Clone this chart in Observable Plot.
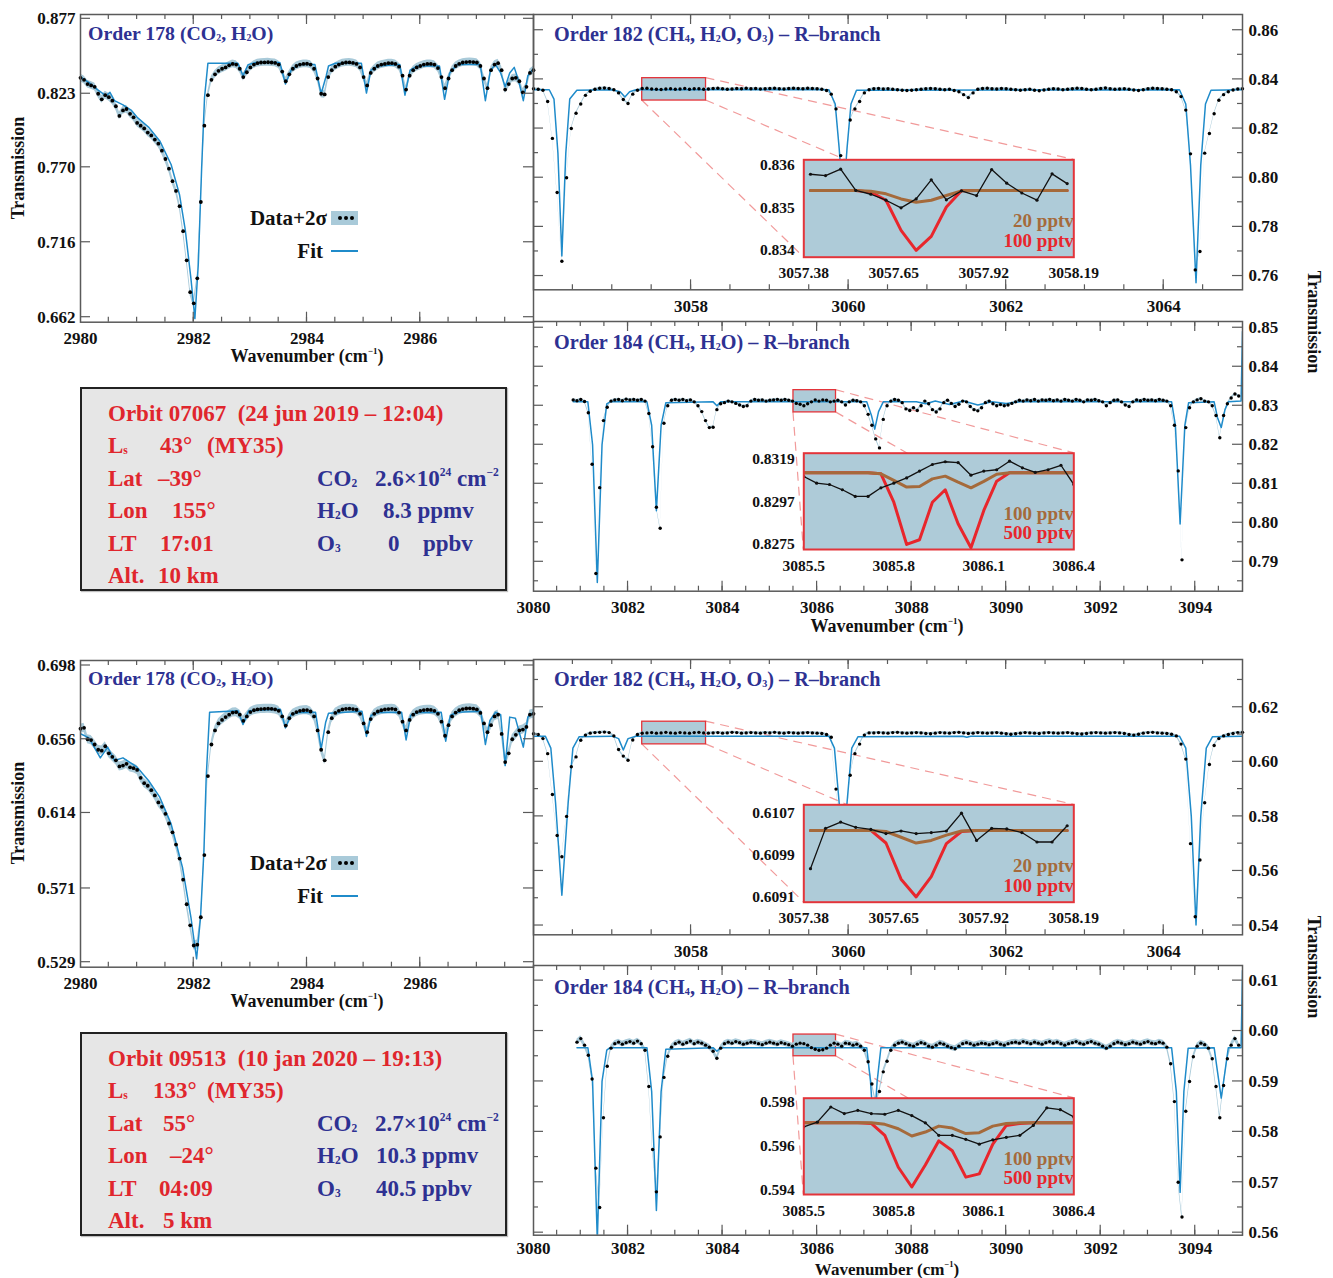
<!DOCTYPE html>
<html>
<head>
<meta charset="utf-8">
<script src="https://cdn.jsdelivr.net/npm/d3@7"></script>
<script src="https://cdn.jsdelivr.net/npm/@observablehq/plot@0.6"></script>
<style>
html,body{margin:0;padding:0;background:#fff;}
#fig{position:relative;width:1333px;height:1278px;overflow:hidden;background:#fff;}
#fig svg text{font-family:'Liberation Serif','Times New Roman',serif;font-weight:bold;}
.t{position:absolute;white-space:nowrap;line-height:1;font-family:'Liberation Serif','Times New Roman',serif;font-weight:bold;}
.t sub{font-size:0.5em;vertical-align:-0.12em;line-height:0;}
.t sup{font-size:0.5em;vertical-align:0.85em;line-height:0;}
.box{position:absolute;background:#e6e6e6;border:2px solid #222;box-sizing:border-box;box-shadow:1px 1px 1px rgba(0,0,0,0.25);}
.sw{position:absolute;}
</style>
</head>
<body>
<div id="fig"></div>
<script>
// ---------------- DATA ----------------
// Order 178 (top orbit 07067): data on a regular wavenumber grid
const top178X0 = 2980.0, top178Step = 0.0625, top178Sigma = 0.0014;
const top178Y = [.8345,.8330,.8300,.8290,.8280,.8230,.8190,.8220,.8205,.8180,
 .8140,.8070,.8110,.8120,.8085,.8060,.8020,.8000,.7980,.7950,
 .7930,.7900,.7870,.7820,.7760,.7690,.7600,.7530,.7420,.7240,
 .7030,.6800,.6720,.6900,.7450,.8000,.8220,.8330,.8370,.8395,
 .8410,.8420,.8435,.8445,.8440,.8410,.8350,.8385,.8420,.8440,
 .8450,.8455,.8456,.8457,.8455,.8452,.8440,.8390,.8320,.8370,
 .8410,.8430,.8440,.8445,.8446,.8440,.8410,.8340,.8230,.8225,
 .8350,.8400,.8425,.8440,.8450,.8455,.8456,.8452,.8445,.8420,
 .8350,.8290,.8380,.8410,.8430,.8440,.8445,.8450,.8450,.8445,
 .8425,.8360,.8260,.8360,.8400,.8420,.8430,.8440,.8445,.8445,
 .8440,.8415,.8350,.8270,.8340,.8400,.8430,.8445,.8455,.8458,
 .8460,.8458,.8455,.8430,.8340,.8270,.8400,.8440,.8450,.8400,
 .8260,.8300,.8340,.8345,.8320,.8240,.8280,.8380,.8400];
const top178Fit = [[2980.0,.835],[2980.15,.831],[2980.3,.826],[2980.45,.8215],[2980.52,.824],[2980.6,.818],[2980.75,.815],[2980.9,.811],[2981.0,.806],[2981.2,.799],[2981.4,.789],[2981.6,.772],[2981.75,.750],[2981.85,.725],[2981.95,.690],[2982.02,.661],[2982.08,.700],[2982.14,.770],[2982.19,.820],[2982.25,.845],[2982.78,.845],[2982.87,.836],[2982.96,.844],[2983.1,.8455],[2983.52,.8455],[2983.62,.830],[2983.72,.840],[2983.85,.844],[2984.14,.844],[2984.25,.823],[2984.34,.836],[2984.38,.843],[2984.5,.845],[2984.96,.845],[2985.05,.8235],[2985.13,.840],[2985.25,.843],[2985.64,.844],[2985.73,.822],[2985.82,.840],[2985.95,.843],[2986.34,.843],[2986.43,.819],[2986.52,.838],[2986.65,.844],[2987.06,.844],[2987.15,.818],[2987.24,.840],[2987.33,.844],[2987.42,.838],[2987.5,.828],[2987.58,.838],[2987.66,.842],[2987.74,.832],[2987.82,.818],[2987.9,.836],[2988.0,.841]];
const top178YTicks = [0.662, 0.716, 0.770, 0.823, 0.877];

// Order 182 (top)
const top182X0 = 3056.0, top182Step = 0.06, top182Sigma = 0.0002;
const top182Y = [.8362,.8360,.8356,.8310,.8160,.7940,.7660,.8000,.8200,.8262,
 .8300,.8335,.8352,.8360,.8364,.8365,.8363,.8358,.8345,.8318,
 .8302,.8340,.8356,.8363,.8364,.8361,.8360,.8359,.8361,.8362,
 .8360,.8361,.8363,.8360,.8362,.8362,.8360,.8361,.8363,.8364,
 .8362,.8360,.8361,.8363,.8362,.8364,.8362,.8363,.8361,.8362,
 .8363,.8364,.8362,.8361,.8363,.8364,.8363,.8362,.8364,.8363,
 .8362,.8360,.8355,.8340,.8280,.8090,.7990,.8235,.8280,.8310,
 .8345,.8358,.8362,.8363,.8361,.8362,.8360,.8358,.8356,.8355,
 .8356,.8358,.8360,.8362,.8363,.8362,.8360,.8358,.8360,.8355,
 .8350,.8338,.8326,.8345,.8360,.8363,.8364,.8362,.8361,.8363,
 .8362,.8360,.8358,.8356,.8358,.8360,.8356,.8354,.8357,.8360,
 .8362,.8361,.8358,.8360,.8362,.8364,.8363,.8360,.8358,.8360,
 .8363,.8365,.8362,.8360,.8361,.8362,.8360,.8357,.8355,.8358,
 .8362,.8364,.8363,.8362,.8360,.8358,.8350,.8330,.8275,.8097,
 .7625,.7700,.8100,.8180,.8260,.8315,.8338,.8350,.8357,.8361,
 .8362];
const top182Fit = [[3056.0,.8358],[3056.2,.8358],[3056.26,.832],[3056.31,.810],[3056.36,.7682],[3056.41,.810],[3056.46,.832],[3056.55,.8356],[3057.0,.8358],[3057.1,.835],[3057.16,.8328],[3057.22,.835],[3057.3,.8358],[3059.75,.8358],[3059.83,.830],[3059.88,.812],[3059.93,.790],[3059.98,.812],[3060.03,.830],[3060.1,.8356],[3064.2,.8358],[3064.28,.830],[3064.34,.805],[3064.41,.7573],[3064.47,.805],[3064.53,.830],[3064.6,.8356],[3065.0,.8358]];
const top182Rect = {x1: 3057.38, x2: 3058.19, y1: 0.8314, y2: 0.8405};

// Order 184 (top)
const top184X0 = 3080.84, top184Step = 0.08, top184Sigma = 0.00015;
const top184Y = [.8315,.8313,.8316,.8311,.8282,.8150,.7870,.8090,.8262,.8296,
 .8312,.8315,.8316,.8313,.8317,.8315,.8316,.8314,.8316,.8312,
 .8280,.8195,.8040,.7986,.8255,.8300,.8314,.8316,.8314,.8316,
 .8313,.8315,.8310,.8300,.8285,.8262,.8244,.8245,.8290,.8305,
 .8308,.8312,.8310,.8306,.8302,.8298,.8300,.8312,.8316,.8314,
 .8315,.8312,.8314,.8315,.8316,.8314,.8316,.8314,.8312,.8306,
 .8304,.8300,.8305,.8310,.8315,.8312,.8315,.8314,.8310,.8312,
 .8314,.8310,.8302,.8310,.8314,.8313,.8310,.8300,.8278,.8250,
 .8215,.8192,.8265,.8300,.8312,.8316,.8314,.8308,.8292,.8288,
 .8295,.8288,.8300,.8312,.8305,.8290,.8284,.8292,.8308,.8314,
 .8306,.8298,.8304,.8312,.8310,.8298,.8290,.8287,.8295,.8308,
 .8312,.8305,.8300,.8303,.8300,.8302,.8306,.8310,.8314,.8312,
 .8315,.8313,.8316,.8312,.8315,.8314,.8316,.8313,.8315,.8312,
 .8316,.8314,.8312,.8316,.8314,.8310,.8315,.8314,.8316,.8313,
 .8310,.8300,.8308,.8314,.8315,.8310,.8302,.8298,.8310,.8315,
 .8313,.8316,.8314,.8315,.8313,.8316,.8314,.8312,.8300,.8250,
 .8133,.7905,.8244,.8295,.8310,.8315,.8318,.8312,.8310,.8300,
 .8275,.8218,.8275,.8305,.8320,.8330,.8325];
const top184Fit = [[3080.84,.8310],[3081.15,.8310],[3081.25,.820],[3081.35,.7847],[3081.45,.820],[3081.55,.8305],[3081.62,.8310],[3082.4,.8310],[3082.5,.825],[3082.6,.8031],[3082.7,.825],[3082.8,.8308],[3083.8,.8310],[3083.88,.8300],[3083.96,.8310],[3087.05,.8310],[3087.15,.8275],[3087.22,.8240],[3087.3,.8285],[3087.4,.8310],[3088.1,.8310],[3088.3,.8305],[3088.5,.8312],[3088.8,.8303],[3089.1,.8312],[3089.4,.8302],[3089.7,.8310],[3090.0,.8306],[3090.3,.8310],[3093.5,.8310],[3093.58,.825],[3093.68,.7997],[3093.78,.825],[3093.86,.8308],[3094.4,.8310],[3094.47,.827],[3094.55,.8244],[3094.63,.829],[3094.7,.8310],[3094.97,.8312],[3095.0,.8490]];
const top184Rect = {x1: 3085.5, x2: 3086.4, y1: 0.8283, y2: 0.8340};

// Insets (top)
const ins182X0 = 3057.40, ins182Step = 0.0453;
const topIns182Data = [0.83579,0.83576,0.83591,0.83541,0.83532,0.83518,0.83500,0.83521,0.83566,0.83519,0.83540,0.83529,0.83590,0.83558,0.83535,0.83518,0.83580,0.83557];
const topIns182Low = [0.83541,0.83541,0.83541,0.83541,0.83539,0.83533,0.83521,0.83513,0.83518,0.83529,0.83540,0.83541,0.83541,0.83541,0.83541,0.83541,0.83541,0.83541];
const topIns182High = [0.83541,0.83541,0.83541,0.83541,0.83537,0.83518,0.83447,0.83400,0.83433,0.83502,0.83540,0.83541,0.83541,0.83541,0.83541,0.83541,0.83541,0.83541];
const topIns184X0 = 3085.5, topIns184Step = 0.04286;
const topIns184Data = [0.83099,0.83065,0.83058,0.83031,0.82997,0.82997,0.83041,0.83065,0.83092,0.83127,0.83161,0.83175,0.83171,0.83106,0.83127,0.83134,0.83178,0.83144,0.83120,0.83134,0.83157,0.83058];
const topIns184Low = [0.83118,0.83118,0.83118,0.83118,0.83118,0.83118,0.83113,0.83079,0.83045,0.83048,0.83087,0.83101,0.83070,0.83041,0.83074,0.83111,0.83118,0.83118,0.83118,0.83118,0.83118,0.83118];
const topIns184High = [0.83118,0.83118,0.83118,0.83118,0.83118,0.83118,0.83113,0.82967,0.82750,0.82774,0.82967,0.83031,0.82856,0.82733,0.82925,0.83075,0.83118,0.83118,0.83118,0.83118,0.83118,0.83118];

// Order 178 (bottom orbit 09513)
const bot178X0 = 2980.0, bot178Step = 0.0625, bot178Sigma = 0.0013;
const bot178Y = [.6620,.6625,.6560,.6555,.6530,.6500,.6495,.6520,.6480,.6460,
 .6440,.6405,.6410,.6420,.6400,.6395,.6385,.6340,.6310,.6295,
 .6270,.6240,.6200,.6175,.6135,.6080,.6030,.5960,.5880,.5760,
 .5620,.5500,.5385,.5390,.5546,.5900,.6350,.6530,.6610,.6650,
 .6670,.6686,.6700,.6712,.6714,.6700,.6665,.6690,.6715,.6725,
 .6730,.6732,.6733,.6734,.6733,.6730,.6722,.6690,.6638,.6680,
 .6705,.6715,.6722,.6725,.6726,.6718,.6690,.6610,.6500,.6440,
 .6600,.6680,.6710,.6722,.6730,.6733,.6734,.6732,.6728,.6705,
 .6650,.6600,.6675,.6705,.6718,.6725,.6730,.6732,.6733,.6730,
 .6712,.6660,.6610,.6670,.6700,.6715,.6722,.6726,.6728,.6727,
 .6722,.6705,.6660,.6580,.6640,.6690,.6712,.6725,.6732,.6735,
 .6736,.6734,.6730,.6710,.6650,.6600,.6640,.6690,.6700,.6590,
 .6430,.6480,.6560,.6585,.6610,.6615,.6630,.6700,.6705];
const bot178Fit = [[2980.0,.6591],[2980.15,.6568],[2980.35,.6454],[2980.48,.6515],[2980.6,.6439],[2980.75,.6454],[2981.0,.6401],[2981.2,.6325],[2981.4,.6230],[2981.6,.6078],[2981.8,.5831],[2981.95,.5546],[2982.05,.5309],[2982.12,.5546],[2982.18,.5926],[2982.22,.6344],[2982.28,.6714],[2982.78,.6722],[2982.87,.6644],[2982.97,.6722],[2983.53,.6731],[2983.62,.6625],[2983.72,.6700],[2983.85,.6712],[2984.15,.6714],[2984.25,.6505],[2984.33,.6657],[2984.38,.6708],[2984.97,.6720],[2985.05,.6576],[2985.13,.6695],[2985.25,.6712],[2985.67,.6714],[2985.75,.6556],[2985.83,.6695],[2985.95,.6712],[2986.37,.6714],[2986.45,.6549],[2986.53,.6695],[2986.65,.6714],[2987.07,.6720],[2987.15,.6530],[2987.23,.6667],[2987.33,.6714],[2987.42,.6700],[2987.5,.6410],[2987.58,.6686],[2987.68,.6680],[2987.82,.6515],[2987.9,.6686],[2988.0,.6714]];
const bot178YTicks = [0.529, 0.571, 0.614, 0.656, 0.698];

// Order 182 (bottom)
const bot182X0 = 3056.0, bot182Step = 0.06, bot182Sigma = 0.0002;
const bot182Y = [.6103,.6100,.6085,.6030,.5880,.5730,.5652,.5800,.5982,.6018,
 .6079,.6098,.6105,.6107,.6108,.6109,.6107,.6095,.6045,.6021,
 .6006,.6080,.6100,.6105,.6106,.6107,.6105,.6106,.6108,.6106,
 .6105,.6107,.6106,.6105,.6107,.6108,.6106,.6105,.6106,.6107,
 .6105,.6106,.6108,.6107,.6105,.6106,.6107,.6106,.6105,.6107,
 .6106,.6108,.6106,.6105,.6107,.6106,.6105,.6106,.6107,.6106,
 .6105,.6104,.6100,.6090,.5900,.5750,.5700,.5951,.6030,.6065,
 .6098,.6106,.6106,.6107,.6106,.6105,.6107,.6108,.6106,.6105,
 .6106,.6107,.6106,.6104,.6103,.6105,.6107,.6106,.6105,.6107,
 .6108,.6106,.6104,.6105,.6107,.6106,.6105,.6106,.6107,.6105,
 .6103,.6101,.6103,.6105,.6107,.6106,.6105,.6104,.6106,.6107,
 .6106,.6105,.6106,.6107,.6105,.6103,.6102,.6104,.6106,.6107,
 .6106,.6105,.6106,.6107,.6106,.6104,.6100,.6098,.6101,.6105,
 .6107,.6108,.6106,.6105,.6104,.6101,.6095,.6065,.6010,.5700,
 .5432,.5640,.5850,.5990,.6060,.6085,.6095,.6100,.6104,.6107,
 .6108];
const bot182Fit = [[3056.0,.6094],[3056.15,.6094],[3056.22,.6050],[3056.28,.5850],[3056.36,.5511],[3056.44,.5850],[3056.5,.6050],[3056.58,.6092],[3057.0,.6094],[3057.08,.6085],[3057.14,.6043],[3057.2,.6085],[3057.3,.6094],[3059.75,.6094],[3059.82,.6050],[3059.88,.5850],[3059.93,.5650],[3059.98,.5850],[3060.04,.6050],[3060.12,.6092],[3061.45,.6094],[3061.5,.6090],[3061.55,.6094],[3064.2,.6094],[3064.28,.6050],[3064.35,.5800],[3064.41,.5402],[3064.47,.5800],[3064.54,.6050],[3064.62,.6092],[3065.0,.6094]];
const bot182Rect = {x1: 3057.38, x2: 3058.19, y1: 0.6064, y2: 0.6147};

// Order 184 (bottom)
const bot184X0 = 3080.92, bot184Step = 0.08, bot184Sigma = 0.00028;
const bot184Y = [.5978,.5985,.5972,.5952,.5905,.5728,.5650,.5828,.5930,.5966,
 .5975,.5978,.5974,.5977,.5979,.5976,.5980,.5975,.5962,.5890,
 .5765,.5681,.5790,.5908,.5950,.5968,.5975,.5978,.5974,.5977,
 .5980,.5975,.5978,.5976,.5972,.5968,.5960,.5946,.5966,.5975,
 .5978,.5976,.5979,.5977,.5974,.5976,.5978,.5977,.5975,.5973,
 .5976,.5978,.5976,.5974,.5977,.5975,.5973,.5970,.5974,.5976,
 .5975,.5972,.5967,.5964,.5962,.5963,.5966,.5972,.5976,.5974,
 .5970,.5976,.5975,.5972,.5974,.5970,.5962,.5939,.5895,.5860,
 .5880,.5919,.5940,.5962,.5972,.5976,.5978,.5975,.5972,.5970,
 .5974,.5977,.5975,.5970,.5968,.5972,.5976,.5974,.5970,.5967,
 .5965,.5970,.5975,.5977,.5975,.5972,.5974,.5976,.5975,.5973,
 .5975,.5977,.5974,.5972,.5975,.5977,.5978,.5976,.5979,.5977,
 .5975,.5978,.5976,.5974,.5977,.5979,.5976,.5978,.5975,.5972,
 .5975,.5977,.5979,.5976,.5974,.5977,.5979,.5976,.5974,.5970,
 .5966,.5970,.5975,.5978,.5976,.5973,.5975,.5978,.5976,.5974,
 .5977,.5979,.5976,.5975,.5978,.5976,.5968,.5935,.5860,.5700,
 .5631,.5841,.5900,.5949,.5970,.5976,.5973,.5966,.5945,.5890,
 .5828,.5892,.5945,.5972,.5985,.5972];
const bot184Fit = [[3080.92,.5967],[3081.15,.5967],[3081.25,.5900],[3081.35,.5585],[3081.45,.5900],[3081.55,.5962],[3081.62,.5967],[3082.4,.5967],[3082.5,.5880],[3082.6,.5644],[3082.7,.5880],[3082.8,.5964],[3083.8,.5967],[3083.88,.5960],[3083.96,.5967],[3087.05,.5967],[3087.13,.5900],[3087.2,.5800],[3087.27,.5900],[3087.35,.5967],[3093.5,.5967],[3093.6,.5880],[3093.68,.5680],[3093.76,.5880],[3093.85,.5966],[3094.4,.5967],[3094.47,.5920],[3094.55,.5867],[3094.63,.5920],[3094.7,.5967],[3094.97,.5967],[3095.0,.6120]];
const bot184Rect = {x1: 3085.5, x2: 3086.4, y1: 0.5950, y2: 0.5993};

// Insets (bottom)
const botIns182Data = [0.60964,0.61041,0.61053,0.61043,0.61039,0.61031,0.61036,0.61031,0.61033,0.61036,0.61070,0.61018,0.61041,0.61040,0.61033,0.61015,0.61015,0.61046];
const botIns182Low = [0.61037,0.61037,0.61037,0.61037,0.61037,0.61035,0.61024,0.61013,0.61018,0.61028,0.61036,0.61037,0.61037,0.61037,0.61037,0.61037,0.61037,0.61037];
const botIns182High = [0.61037,0.61037,0.61037,0.61037,0.61037,0.61013,0.60944,0.60910,0.60949,0.61012,0.61035,0.61037,0.61037,0.61037,0.61037,0.61037,0.61037,0.61037];
const botIns184X0 = 3085.5, botIns184Step = 0.045;
const botIns184Data = [0.59689,0.59710,0.59779,0.59749,0.59764,0.59749,0.59746,0.59764,0.59740,0.59707,0.59650,0.59650,0.59632,0.59610,0.59629,0.59641,0.59650,0.59695,0.59775,0.59767,0.59734];
const botIns184Low = [0.59707,0.59707,0.59707,0.59707,0.59707,0.59707,0.59700,0.59680,0.59647,0.59665,0.59692,0.59683,0.59658,0.59662,0.59692,0.59704,0.59707,0.59707,0.59707,0.59707,0.59707];
const botIns184High = [0.59707,0.59707,0.59707,0.59707,0.59707,0.59704,0.59650,0.59505,0.59415,0.59515,0.59625,0.59580,0.59460,0.59475,0.59610,0.59695,0.59704,0.59707,0.59707,0.59707,0.59707];

// ---------------- STYLE ----------------
const FONT = "'Liberation Serif','Times New Roman',serif";
const FIT = "#1f8bca", BAND = "#a9cad9", INSET_FILL = "#aecbd8", INSET_RED = "#e3343a",
      RED = "#e8262c", BROWN = "#a56a3b", FRAME = "#5a5a5a", NAVY = "#2e3192",
      TXTRED = "#e0262d", DASH = "#f19a9a";

const fig = document.getElementById("fig");

function place(plot, left, top) {
  Object.assign(plot.style, {position: "absolute", left: left + "px", top: top + "px",
    background: "transparent", overflow: "visible", maxWidth: "none", fontFamily: FONT, color: "#111"});
  fig.appendChild(plot);
}

function scalesOf(plot) {
  const sx = plot.scale("x"), sy = plot.scale("y");
  return {X: d3.scaleLinear(sx.domain, sx.range), Y: d3.scaleLinear(sy.domain, sy.range), xr: sx.range, yr: sy.range};
}

function addTicks(plot, c) {
  const {X, Y, xr, yr} = scalesOf(plot);
  const [xl, xR] = xr, [yb, yt] = yr;
  const g = d3.select(plot).append("g").attr("stroke", FRAME).attr("stroke-width", 1.2);
  const seg = (a, b, c2, d) => g.append("line").attr("x1", a).attr("y1", b).attr("x2", c2).attr("y2", d);
  for (const [vals, len] of [[c.xMaj, 10], [c.xMin, 5]]) for (const v of vals) {
    const p = X(v); if (p < xl + 0.5 || p > xR - 0.5) continue;
    seg(p, yb, p, yb - len); seg(p, yt, p, yt + len);
  }
  for (const [vals, len] of [[c.yMaj, 10], [c.yMin, 5]]) for (const v of vals) {
    const p = Y(v); if (p > yb - 0.5 || p < yt + 0.5) continue;
    seg(xl, p, xl + len, p); seg(xR, p, xR - len, p);
  }
}

function addZoomLines(plot, c) {
  const {X, Y} = scalesOf(plot);
  const r = c.rect, b = c.zoomBox;
  const L = b.l - c.left, R = b.r - c.left, T = b.t - c.top, B = b.b - c.top;
  const segs = [[X(r.x2), Y(r.y2), R, T], [X(r.x2), Y(r.y1), R, B], [X(r.x1), Y(r.y1), L, B]];
  const g = d3.select(plot).insert("g", "g").attr("stroke", DASH).attr("stroke-width", 1.2)
    .attr("stroke-dasharray", "9,6").attr("fill", "none");
  for (const [a, bb, cc, d] of segs) g.append("line").attr("x1", a).attr("y1", bb).attr("x2", cc).attr("y2", d);
}

function mainPanel(c) {
  const rows = c.ys.map((y, i) => ({x: c.x0 + i * c.dx, y}));
  const fitRows = c.fit.map(([x, y]) => ({x, y}));
  const marks = [];
  if (c.rect) marks.push(Plot.rect([c.rect], {x1: "x1", x2: "x2", y1: "y1", y2: "y2", fill: INSET_FILL, stroke: INSET_RED, strokeWidth: 1.3}));
  marks.push(
    Plot.areaY(rows, {x: "x", y1: d => d.y - 2 * c.sigma, y2: d => d.y + 2 * c.sigma, fill: BAND, clip: true}),
    Plot.line(fitRows, {x: "x", y: "y", stroke: FIT, strokeWidth: 1.5, clip: true}),
    Plot.dot(rows, {x: "x", y: "y", r: c.r, fill: "#000", stroke: "none"}),
    Plot.frame({stroke: FRAME, strokeWidth: 1.5}),
    Plot.axisX({ticks: c.xTicks, tickFormat: d => String(d), tickSize: 0, tickPadding: c.xPad, label: null, fontSize: 17}),
    Plot.axisY({anchor: c.yAnchor, ticks: c.yTicks, tickFormat: d3.format(c.yFmt), tickSize: 0, tickPadding: c.yPad, label: null, fontSize: 17})
  );
  const plot = Plot.plot({
    width: c.w, height: c.h,
    marginLeft: c.fl - c.left, marginRight: c.left + c.w - c.fr,
    marginTop: c.ft - c.top, marginBottom: c.top + c.h - c.fb,
    x: {domain: c.xDomain}, y: {domain: c.yDomain},
    marks
  });
  place(plot, c.left, c.top);
  addTicks(plot, c);
  if (c.zoomBox) addZoomLines(plot, c);
}

function insetPanel(c) {
  const grid = ys => ys.map((y, i) => ({x: c.x0 + i * c.dx, y}));
  const plot = Plot.plot({
    width: c.w, height: c.h,
    marginLeft: c.box.l - c.left, marginRight: c.left + c.w - c.box.r,
    marginTop: c.box.t - c.top, marginBottom: c.top + c.h - c.box.b,
    x: {domain: c.xDomain}, y: {domain: c.yDomain},
    marks: [
      Plot.frame({fill: INSET_FILL, stroke: "none"}),
      Plot.line(grid(c.high), {x: "x", y: "y", stroke: RED, strokeWidth: 3, clip: true}),
      Plot.line(grid(c.low), {x: "x", y: "y", stroke: BROWN, strokeWidth: 3, clip: true}),
      Plot.line(grid(c.data), {x: "x", y: "y", stroke: "#111", strokeWidth: 1.3, clip: true}),
      Plot.dot(grid(c.data), {x: "x", y: "y", r: 1.6, fill: "#111", clip: true}),
      Plot.text([c.lowLabel], {text: d => d, frameAnchor: "bottom-right", dy: -30, fill: BROWN, fontSize: 19, textAnchor: "end"}),
      Plot.text([c.highLabel], {text: d => d, frameAnchor: "bottom-right", dy: -10.5, fill: RED, fontSize: 19, textAnchor: "end"}),
      Plot.frame({stroke: INSET_RED, strokeWidth: 2}),
      Plot.axisX({ticks: c.xTicks, tickFormat: d3.format(c.xFmt), tickSize: 0, tickPadding: 10, label: null, fontSize: 15.5}),
      Plot.axisY({ticks: c.yTicks, tickFormat: d3.format(c.yFmt), tickSize: 0, tickPadding: 9, label: null, fontSize: 15.5})
    ]
  });
  place(plot, c.left, c.top);
}

function txt(html, x, y, o = {}) {
  const d = document.createElement("div");
  d.className = "t";
  d.innerHTML = html;
  d.style.left = x + "px"; d.style.top = y + "px";
  d.style.fontSize = (o.size || 17) + "px";
  d.style.color = o.color || "#111";
  const tx = o.anchor === "middle" ? "-50%" : o.anchor === "end" ? "-100%" : "0";
  d.style.transform = `translate(${tx},-50%)` + (o.rotate ? ` rotate(${o.rotate}deg)` : "");
  fig.appendChild(d);
  return d;
}

// ---------------- BUILD ----------------
const p178XTicks = [2980, 2982, 2984, 2986];
const p182XTicks = [3058, 3060, 3062, 3064];
const p184XTicks = [3080, 3082, 3084, 3086, 3088, 3090, 3092, 3094];

function block(off, d) {
  mainPanel({left: 0, top: off, w: 540, h: 370, fl: 80, fr: 533, ft: off + 14 + d.t178, fb: off + 321.7 + d.b178,
    xDomain: [2980, 2988], yDomain: d.y178, x0: d.x178, dx: d.s178, ys: d.ys178, fit: d.fit178, sigma: d.sg178, r: 1.9,
    xTicks: p178XTicks, xPad: 10, yAnchor: "left", yTicks: d.yt178, yFmt: ".3f", yPad: 5,
    xMaj: [2980, 2982, 2984, 2986, 2988], xMin: d3.range(2980, 2988.01, 0.5), yMaj: d.yt178, yMin: []});
  mainPanel({left: 531, top: off, w: 802, h: 318, fl: 533, fr: 1242, ft: off + 14, fb: off + 289.3,
    xDomain: [3056, 3065], yDomain: d.y182, x0: d.x182, dx: d.s182, ys: d.ys182, fit: d.fit182, sigma: d.sg182, r: 1.7,
    xTicks: p182XTicks, xPad: 10, yAnchor: "right", yTicks: d.yt182, yFmt: ".2f", yPad: 6,
    xMaj: p182XTicks, xMin: d3.range(3056, 3065.01, 0.5), yMaj: d.yt182, yMin: d.ym182,
    rect: d.rect182, zoomBox: {l: 803.3, r: 1073.3, t: off + 159.3, b: off + 256.7}});
  mainPanel({left: 531, top: off + 318, w: 802, h: d.h184, fl: 533, fr: 1242, ft: off + 321 + d.t184, fb: off + 590.7 + d.b184,
    xDomain: [3080, 3095], yDomain: d.y184, x0: d.x184, dx: d.s184, ys: d.ys184, fit: d.fit184, sigma: d.sg184, r: 1.7,
    xTicks: p184XTicks, xPad: d.pad184, yAnchor: "right", yTicks: d.yt184, yFmt: ".2f", yPad: 6,
    xMaj: p184XTicks, xMin: d3.range(3080, 3095.01, 0.5), yMaj: d.yt184, yMin: d.ym184,
    rect: d.rect184, zoomBox: {l: 803.3, r: 1073.3, t: off + 452.7, b: off + 549}});
  insetPanel({left: 733, top: off + 150, w: 350, h: 140, box: {l: 803.3, r: 1073.3, t: off + 159.3, b: off + 256.7},
    xDomain: [3057.38, 3058.19], yDomain: d.yi182, x0: ins182X0, dx: ins182Step,
    data: d.i182d, low: d.i182l, high: d.i182h, lowLabel: "20 pptv", highLabel: "100 pptv",
    xTicks: [3057.38, 3057.65, 3057.92, 3058.19], xFmt: ".2f", yTicks: d.yti182, yFmt: d.yfi182});
  insetPanel({left: 733, top: off + 443, w: 350, h: 140, box: {l: 803.3, r: 1073.3, t: off + 452.7, b: off + 549},
    xDomain: [3085.5, 3086.4], yDomain: d.yi184, x0: d.xi184, dx: d.si184,
    data: d.i184d, low: d.i184l, high: d.i184h, lowLabel: "100 pptv", highLabel: "500 pptv",
    xTicks: [3085.5, 3085.8, 3086.1, 3086.4], xFmt: ".1f", yTicks: d.yti184, yFmt: d.yfi184});
}

block(0, {
  t178: 0, b178: 0, y178: [0.6584, 0.8801], x178: top178X0, s178: top178Step, ys178: top178Y, fit178: top178Fit, sg178: top178Sigma, yt178: top178YTicks,
  y182: [0.7544, 0.8664], x182: top182X0, s182: top182Step, ys182: top182Y, fit182: top182Fit, sg182: top182Sigma,
  yt182: [0.76, 0.78, 0.80, 0.82, 0.84, 0.86], ym182: [0.77, 0.79, 0.81, 0.83, 0.85], rect182: top182Rect,
  h184: 330, t184: 0, b184: 0, pad184: 10, y184: [0.78246, 0.8516], x184: top184X0, s184: top184Step, ys184: top184Y, fit184: top184Fit, sg184: top184Sigma,
  yt184: [0.79, 0.80, 0.81, 0.82, 0.83, 0.84, 0.85], ym184: [0.785, 0.795, 0.805, 0.815, 0.825, 0.835, 0.845], rect184: top184Rect,
  yi182: [0.83384, 0.83613], i182d: topIns182Data, i182l: topIns182Low, i182h: topIns182High, yti182: [0.834, 0.835, 0.836], yfi182: ".3f",
  yi184: [0.82724, 0.83219], xi184: topIns184X0, si184: topIns184Step, i184d: topIns184Data, i184l: topIns184Low, i184h: topIns184High, yti184: [0.8275, 0.8297, 0.8319], yfi184: ".4f"
});

block(645, {
  t178: 1, b178: 0, y178: [0.52615, 0.70085], x178: bot178X0, s178: bot178Step, ys178: bot178Y, fit178: bot178Fit, sg178: bot178Sigma, yt178: bot178YTicks,
  y182: [0.5366, 0.6375], x182: bot182X0, s182: bot182Step, ys182: bot182Y, fit182: bot182Fit, sg182: bot182Sigma,
  yt182: [0.54, 0.56, 0.58, 0.60, 0.62], ym182: [0.55, 0.57, 0.59, 0.61, 0.63], rect182: bot182Rect,
  h184: 315, t184: -1, b184: -1, pad184: 7, y184: [0.5595, 0.6130], x184: bot184X0, s184: bot184Step, ys184: bot184Y, fit184: bot184Fit, sg184: bot184Sigma,
  yt184: [0.56, 0.57, 0.58, 0.59, 0.60, 0.61], ym184: [0.565, 0.575, 0.585, 0.595, 0.605], rect184: bot184Rect,
  yi182: [0.60900, 0.61086], i182d: botIns182Data, i182l: botIns182Low, i182h: botIns182High, yti182: [0.6091, 0.6099, 0.6107], yfi182: ".4f",
  yi184: [0.59381, 0.59819], xi184: botIns184X0, si184: botIns184Step, i184d: botIns184Data, i184l: botIns184Low, i184h: botIns184High, yti184: [0.594, 0.596, 0.598], yfi184: ".3f"
});

// ---------------- TEXT / INFO ----------------
const infoRowsTop = [
  [TXTRED, "Orbit 07067&nbsp; (24 jun 2019 – 12:04)", 108, 0],
  [TXTRED, "L<sub>s</sub>", 108, 1], [TXTRED, "43°", 160, 1], [TXTRED, "(MY35)", 207, 1],
  [TXTRED, "Lat", 108, 2], [TXTRED, "–39°", 158, 2],
  [TXTRED, "Lon", 108, 3], [TXTRED, "155°", 172, 3],
  [TXTRED, "LT", 108, 4], [TXTRED, "17:01", 160, 4],
  [TXTRED, "Alt.", 108, 5], [TXTRED, "10 km", 158, 5],
  [NAVY, "CO<sub>2</sub>", 317, 2], [NAVY, "2.6×10<sup>24</sup> cm<sup>−2</sup>", 375, 2],
  [NAVY, "H<sub>2</sub>O", 317, 3], [NAVY, "8.3 ppmv", 383, 3],
  [NAVY, "O<sub>3</sub>", 317, 4], [NAVY, "0", 388, 4], [NAVY, "ppbv", 423, 4]
];
const infoRowsBot = [
  [TXTRED, "Orbit 09513&nbsp; (10 jan 2020 – 19:13)", 108, 0],
  [TXTRED, "L<sub>s</sub>", 108, 1], [TXTRED, "133°", 153, 1], [TXTRED, "(MY35)", 207, 1],
  [TXTRED, "Lat", 108, 2], [TXTRED, "55°", 163, 2],
  [TXTRED, "Lon", 108, 3], [TXTRED, "–24°", 170, 3],
  [TXTRED, "LT", 108, 4], [TXTRED, "04:09", 159, 4],
  [TXTRED, "Alt.", 108, 5], [TXTRED, "5 km", 163, 5],
  [NAVY, "CO<sub>2</sub>", 317, 2], [NAVY, "2.7×10<sup>24</sup> cm<sup>−2</sup>", 375, 2],
  [NAVY, "H<sub>2</sub>O", 317, 3], [NAVY, "10.3 ppmv", 376, 3],
  [NAVY, "O<sub>3</sub>", 317, 4], [NAVY, "40.5 ppbv", 376, 4]
];

function texts(off, rows, wavY184, wavSize) {
  txt("Order 178 (CO<sub>2</sub>, H<sub>2</sub>O)", 88, off + 34, {size: 19.8, color: NAVY});
  txt("Order 182 (CH<sub>4</sub>, H<sub>2</sub>O, O<sub>3</sub>) – R–branch", 554, off + 34, {size: 20.2, color: NAVY});
  txt("Order 184 (CH<sub>4</sub>, H<sub>2</sub>O) – R–branch", 554, off + 342, {size: 20.2, color: NAVY});
  txt("Transmission", 18, off + 168, {size: 18, anchor: "middle", rotate: -90});
  txt("Transmission", 1314, off + 322, {size: 18, anchor: "middle", rotate: 90});
  txt("Wavenumber (cm<sup>−1</sup>)", 307, off + 356, {size: 18, anchor: "middle"});
  txt("Wavenumber (cm<sup>−1</sup>)", 887, wavY184, {size: wavSize, anchor: "middle"});
  txt("Data+2σ", 327, off + 218, {size: 21, anchor: "end"});
  txt("Fit", 323, off + 251, {size: 21, anchor: "end"});
  const sw = document.createElement("div");
  sw.className = "sw";
  sw.style.cssText = `left:331px;top:${off + 211}px;width:27px;height:14px;background:${BAND};`;
  fig.appendChild(sw);
  for (const dx of [9, 15, 21]) {
    const dd = document.createElement("div");
    dd.className = "sw";
    dd.style.cssText = `left:${331 + dx - 2}px;top:${off + 216}px;width:4px;height:4px;border-radius:50%;background:#000;`;
    fig.appendChild(dd);
  }
  const ln = document.createElement("div");
  ln.className = "sw";
  ln.style.cssText = `left:331px;top:${off + 250.3}px;width:27px;height:1.5px;background:${FIT};`;
  fig.appendChild(ln);
  const box = document.createElement("div");
  box.className = "box";
  box.style.cssText = `left:80px;top:${off + 387}px;width:427px;height:204px;`;
  fig.appendChild(box);
  for (const [col, html, x, r] of rows) txt(html, x, off + 413 + 32.4 * r, {size: 23, color: col});
}
texts(0, infoRowsTop, 626, 18);
texts(645, infoRowsBot, 1268.5, 17);
</script>
</body>
</html>
